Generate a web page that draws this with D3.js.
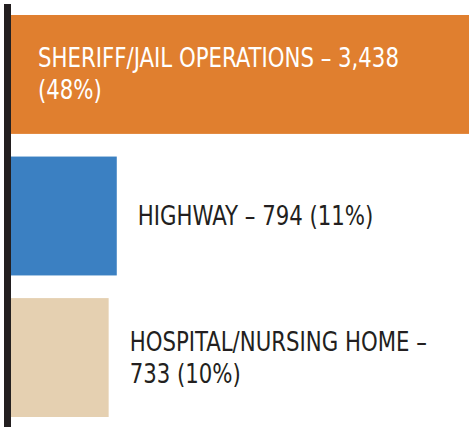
<!DOCTYPE html>
<html>
<head>
<meta charset="utf-8">
<script src="https://cdn.jsdelivr.net/npm/d3@7"></script>
<style>
  body { margin: 0; background: #fff; }
  svg { display: block; }
  text { font-family: "Liberation Sans Narrow", "Arial Narrow", "DejaVu Sans Condensed", sans-serif; }
</style>
</head>
<body>
<div id="chart"></div>
<script>
const categories = ["SHERIFF/JAIL OPERATIONS", "HIGHWAY", "HOSPITAL/NURSING HOME"];
const values = [3438, 794, 733];
const shares = ["48%", "11%", "10%"];
const colors = ["#e07f2f", "#3b80c2", "#e5d0b1"];
// label lines as they wrap in the picture
const labelLines = [
  ["SHERIFF/JAIL OPERATIONS \u2013 3,438", "(48%)"],
  ["HIGHWAY \u2013 794 (11%)"],
  ["HOSPITAL/NURSING HOME \u2013", "733 (10%)"]
];

const width = 469, height = 427;
const left = 11;

const svg = d3.select("#chart")
  .append("svg")
  .attr("width", width)
  .attr("height", height);

// x scale for bar length, biggest bar runs to the edge
const xScale = d3.scaleLinear()
  .domain([0, 3438])
  .range([left, width]);

// y band scale
const yScale = d3.scaleBand()
  .domain(categories)
  .range([15, 417])
  .paddingInner(0.16);

const rows = categories.map((c, i) => ({
  cat: c, value: values[i], share: shares[i], color: colors[i], lines: labelLines[i], inside: i === 0
}));

svg.append("g")
  .selectAll("rect")
  .data(rows)
  .enter()
  .append("rect")
  .attr("x", xScale(0))
  .attr("y", d => yScale(d.cat))
  .attr("width", d => xScale(d.value) - xScale(0))
  .attr("height", yScale.bandwidth())
  .attr("fill", d => d.color);

// the dark baseline at the left
svg.append("rect")
  .attr("x", 4)
  .attr("y", 4)
  .attr("width", 7)
  .attr("height", height - 4)
  .attr("fill", "#231f20");

const lineGap = 32;
// condensed face: squeeze the fallback font a bit
const labels = svg.append("g")
  .selectAll("text")
  .data(rows)
  .enter()
  .append("text")
  .attr("transform", d => {
    const x = d.inside ? xScale(0) + 27 : xScale(d.value) + 21;
    const y = yScale(d.cat) + yScale.bandwidth() / 2 + 9 - (d.lines.length - 1) * lineGap / 2;
    return `translate(${x},${y}) scale(0.91,1)`;
  })
  .attr("fill", d => d.inside ? "#ffffff" : "#231f20")
  .style("font-size", "26px");

labels.selectAll("tspan")
  .data(d => d.lines)
  .enter()
  .append("tspan")
  .attr("x", 0)
  .attr("dy", (d, i) => i === 0 ? 0 : lineGap)
  .text(d => d);
</script>
</body>
</html>
